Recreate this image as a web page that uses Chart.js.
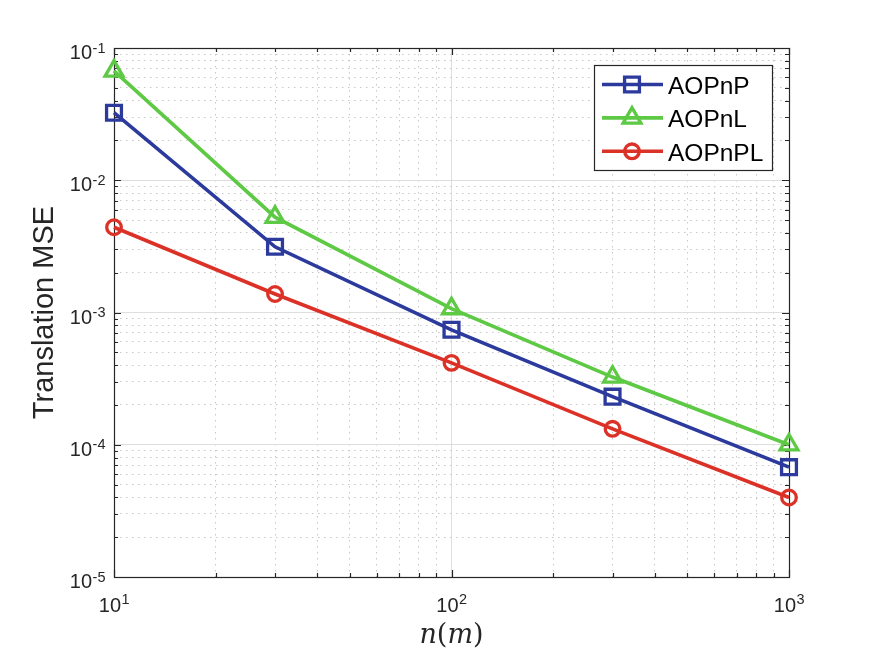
<!DOCTYPE html>
<html>
<head>
<meta charset="utf-8">
<script src="https://cdn.jsdelivr.net/npm/chart.js@4.4.0/dist/chart.umd.min.js"></script>
<style>
	body { margin: 0; background: #fff; }
	canvas { display: block; }
</style>
</head>
<body>
<canvas id="mse-chart" width="872" height="654"></canvas>
<script>
// Sample sizes n (x axis, log)
const nValues = [10, 30, 100, 300, 1000];

// Translation MSE per method
const aopnpMse = [3.24e-2, 3.14e-3, 7.4e-4, 2.31e-4, 6.77e-5];
const aopnlMse = [6.71e-2, 5.26e-3, 1.07e-3, 3.25e-4, 1.0e-4];
const aopnplMse = [4.41e-3, 1.38e-3, 4.16e-4, 1.32e-4, 3.99e-5];

// Axis decades and tick label exponents
const xMajorTicks = [10, 100, 1000];
const xTickExps = ['1', '2', '3'];
const yMajorTicks = [1e-5, 1e-4, 1e-3, 1e-2, 1e-1];
const yTickExps = ['-5', '-4', '-3', '-2', '-1'];

const axisColor = '#262626';

/* Major + minor ticks (2..9 per decade) */
function logTicks(majors) {
	const ticks = [];
	majors.forEach((m, i) => {
		ticks.push({ value: m, major: true });
		if (i < majors.length - 1) {
			for (let k = 2; k <= 9; k++) ticks.push({ value: m * k, major: false });
		}
	});
	return ticks;
}

const series = [
	{ label: 'AOPnP', data: aopnpMse, color: '#2b3a9c', style: 'rect', radius: 10.5 },
	{ label: 'AOPnL', data: aopnlMse, color: '#5dc944', style: 'triangle', radius: 10.3 },
	{ label: 'AOPnPL', data: aopnplMse, color: '#dc3127', style: 'circle', radius: 7.3 }
];

/* Box, inside ticks and tick labels like MATLAB */
const axesPlugin = {
	id: 'axesBox',
	beforeDatasetsDraw(chart) {
		const { ctx, chartArea: a, scales } = chart;
		ctx.save();
		ctx.strokeStyle = axisColor;
		ctx.lineWidth = 1.2;
		ctx.beginPath();
		scales.x.ticks.forEach(t => {
			const px = Math.round(scales.x.getPixelForValue(t.value)) + 0.5;
			const len = t.major ? 7 : 4;
			ctx.moveTo(px, a.bottom); ctx.lineTo(px, a.bottom - len);
			ctx.moveTo(px, a.top); ctx.lineTo(px, a.top + len);
		});
		scales.y.ticks.forEach(t => {
			const py = Math.round(scales.y.getPixelForValue(t.value)) + 0.5;
			const len = t.major ? 7 : 4;
			ctx.moveTo(a.left, py); ctx.lineTo(a.left + len, py);
			ctx.moveTo(a.right, py); ctx.lineTo(a.right - len, py);
		});
		ctx.stroke();
		ctx.strokeRect(Math.round(a.left) + 0.5, Math.round(a.top) + 0.5,
			Math.round(a.right - a.left), Math.round(a.bottom - a.top));

		// tick labels
		ctx.fillStyle = axisColor;
		ctx.textAlign = 'left';
		ctx.textBaseline = 'alphabetic';
		const baseFont = '20px "Liberation Sans", Arial, sans-serif';
		const expFont = '14.5px "Liberation Sans", Arial, sans-serif';
		yMajorTicks.forEach((v, i) => {
			const py = scales.y.getPixelForValue(v);
			ctx.font = baseFont;
			const w10 = ctx.measureText('10').width;
			ctx.font = expFont;
			const wExp = ctx.measureText(yTickExps[i]).width;
			const x0 = a.left - 9 - w10 - wExp;
			ctx.font = baseFont;
			ctx.fillText('10', x0, py + 11);
			ctx.font = expFont;
			ctx.fillText(yTickExps[i], x0 + w10 + 0.5, py + 4.5);
		});
		xMajorTicks.forEach((v, i) => {
			const px = scales.x.getPixelForValue(v);
			ctx.font = baseFont;
			const w10 = ctx.measureText('10').width;
			ctx.font = expFont;
			const wExp = ctx.measureText(xTickExps[i]).width;
			const x0 = px - (w10 + wExp) / 2;
			ctx.font = baseFont;
			ctx.fillText('10', x0, a.bottom + 35);
			ctx.font = expFont;
			ctx.fillText(xTickExps[i], x0 + w10 + 0.5, a.bottom + 27);
		});

		// y axis title
		ctx.save();
		ctx.translate(53, (a.top + a.bottom) / 2);
		ctx.rotate(-Math.PI / 2);
		ctx.textAlign = 'center';
		ctx.font = '29px "Liberation Sans", Arial, sans-serif';
		ctx.fillText('Translation MSE', 0, 0);
		ctx.restore();

		// x axis title n(m): italic letters, upright parentheses
		const parts = [
			{ t: 'n', f: 'italic 27px "DejaVu Serif", serif' },
			{ t: '(', f: '27px "DejaVu Serif", serif' },
			{ t: 'm', f: 'italic 27px "DejaVu Serif", serif' },
			{ t: ')', f: '27px "DejaVu Serif", serif' }
		];
		let total = 0;
		parts.forEach(p => { ctx.font = p.f; p.w = ctx.measureText(p.t).width; total += p.w; });
		let cx = (a.left + a.right) / 2 - total / 2;
		parts.forEach(p => { ctx.font = p.f; ctx.fillText(p.t, cx, 643); cx += p.w; });
		ctx.restore();
	}
};

/* Draw a hollow marker for the legend */
function drawMarker(ctx, style, x, y, r) {
	ctx.beginPath();
	if (style === 'rect') {
		const s = Math.SQRT1_2 * r;
		ctx.rect(x - s, y - s, 2 * s, 2 * s);
	} else if (style === 'triangle') {
		ctx.moveTo(x, y - r);
		ctx.lineTo(x + Math.sin(2 * Math.PI / 3) * r, y + r / 2);
		ctx.lineTo(x - Math.sin(2 * Math.PI / 3) * r, y + r / 2);
		ctx.closePath();
	} else {
		ctx.arc(x, y, r, 0, 2 * Math.PI);
	}
	ctx.stroke();
}

/* Legend box with line + marker samples */
const legendPlugin = {
	id: 'matlabLegend',
	afterDatasetsDraw(chart) {
		const { ctx } = chart;
		ctx.save();
		ctx.fillStyle = '#fff';
		ctx.fillRect(594, 65, 178, 105);
		ctx.strokeStyle = axisColor;
		ctx.lineWidth = 1.2;
		ctx.strokeRect(594.5, 65.5, 178, 105);
		ctx.font = '24.5px "Liberation Sans", Arial, sans-serif';
		ctx.textBaseline = 'alphabetic';
		series.forEach((s, i) => {
			const y = 84.5 + i * 33.4;
			ctx.strokeStyle = s.color;
			ctx.lineWidth = 3.6;
			ctx.beginPath();
			ctx.moveTo(602, y);
			ctx.lineTo(663, y);
			ctx.stroke();
			ctx.lineWidth = 3.3;
			drawMarker(ctx, s.style, 632, y, s.radius);
			ctx.fillStyle = '#000';
			ctx.fillText(s.label, 668, y + 9.5);
		});
		ctx.restore();
	}
};

new Chart(document.getElementById('mse-chart').getContext('2d'), {
	type: 'line',
	data: {
		datasets: series.map(s => ({
			label: s.label,
			data: nValues.map((n, i) => ({ x: n, y: s.data[i] })),
			borderColor: s.color,
			borderWidth: 3.6,
			tension: 0,
			fill: false,
			clip: false,
			pointStyle: s.style,
			pointRadius: s.radius,
			pointBorderWidth: 3.3,
			pointBorderColor: s.color,
			pointBackgroundColor: 'rgba(0,0,0,0)'
		}))
	},
	options: {
		responsive: false,
		animation: false,
		layout: { padding: { left: 114, top: 48, right: 83, bottom: 77 } },
		plugins: {
			legend: { display: false },
			tooltip: { enabled: false }
		},
		scales: {
			x: {
				type: 'logarithmic',
				min: 10,
				max: 1000,
				afterBuildTicks: scale => { scale.ticks = logTicks(xMajorTicks); },
				ticks: { display: false },
				grid: {
					drawTicks: false,
					lineWidth: 1,
					color: c => (c.tick && c.tick.major ? '#dedede' : '#c8c8c8')
				},
				border: {
					display: false,
					dash: c => (c.tick && c.tick.major ? [] : [1.5, 4.5])
				}
			},
			y: {
				type: 'logarithmic',
				min: 1e-5,
				max: 1e-1,
				afterBuildTicks: scale => { scale.ticks = logTicks(yMajorTicks); },
				ticks: { display: false },
				grid: {
					drawTicks: false,
					lineWidth: 1,
					color: c => (c.tick && c.tick.major ? '#dedede' : '#c8c8c8')
				},
				border: {
					display: false,
					dash: c => (c.tick && c.tick.major ? [] : [1.5, 4.5])
				}
			}
		}
	},
	plugins: [axesPlugin, legendPlugin]
});
</script>
</body>
</html>
